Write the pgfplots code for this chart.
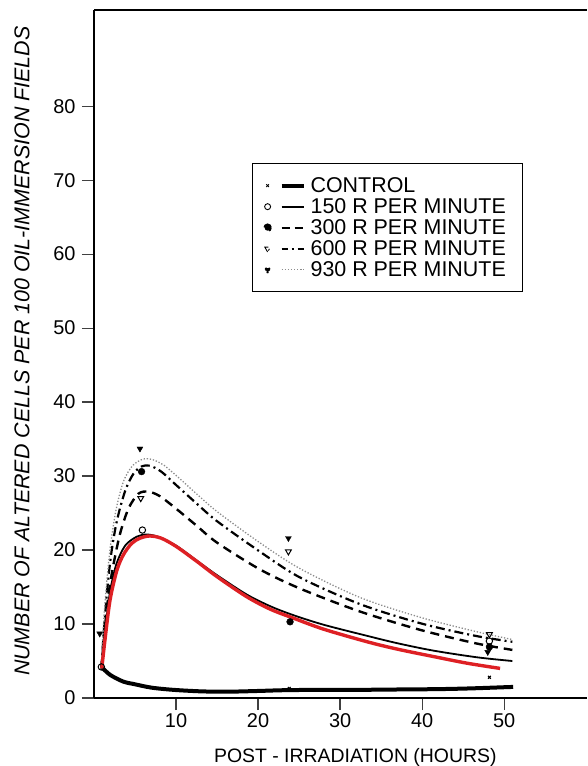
\documentclass[border=0pt]{standalone}
\usepackage{fontspec}
\setmainfont{Liberation Sans}
\usepackage{pgfplots}
\pgfplotsset{compat=1.18}
\definecolor{fitred}{RGB}{222,32,36}
\definecolor{dotgray}{RGB}{140,140,140}

\begin{document}
\begin{tikzpicture}
\begin{axis}[
  scale only axis, width=493bp, height=688bp,
  xmin=0, xmax=60.1, ymin=0, ymax=93,
  axis lines*=left,
  axis line style={line width=1.6bp, black},
  tick align=outside, major tick length=12bp,
  tick style={line width=1.2bp, black!75},
  xtick={10,20,30,40,50}, ytick={0,10,...,80},
  /pgf/number format/assume math mode=true,
  tick label style={font=\fontsize{20}{20}\selectfont},
  yticklabel style={xshift=-3bp},
  xlabel={POST - IRRADIATION (HOURS)},
  ylabel={NUMBER OF ALTERED CELLS PER 100 OIL-IMMERSION FIELDS},
  xlabel style={font=\fontsize{19.5}{20}\selectfont, at={(rel axis cs:0.53,0)}, anchor=center, yshift=-59bp},
  ylabel style={font=\fontsize{21.5}{22}\selectfont\itshape, at={(rel axis cs:0,0.504)}, anchor=center, yshift=72bp},
  legend style={at={(rel axis cs:0.3205,0.7776)}, anchor=north west, draw=black, line width=1.2bp,
    font=\fontsize{21.5}{21.5}\selectfont, inner xsep=12bp, inner ysep=11.5bp,
    nodes={inner xsep=5bp, inner ysep=2.3bp, text depth=0.15em}},
  legend cell align=left,
  clip=false,
]
% control
\addplot[black, line width=4bp, smooth,
  legend image code/.code={\draw[black,mark=x,mark size=1.8bp,line width=1bp] plot coordinates {(0bp,0bp)};
    \draw[black,line width=4bp] (14bp,0bp) -- (36bp,0bp);}]
  coordinates {(1,4.1) (2,3.1) (3.6,2.2) (4.8,1.9) (7,1.4) (9.7,1.1) (13,0.9) (16.2,0.85) (20,0.95) (23,1.05) (27,1.1) (32,1.1) (37,1.15) (42,1.2) (46,1.3) (51.1,1.5)};
\addlegendentry{CONTROL}
% 150 R
\addplot[black, line width=1.8bp, smooth,
  legend image code/.code={\draw[black,fill=white,mark=o,mark size=3bp,line width=0.9bp] plot coordinates {(0bp,0bp)};
    \draw[black,line width=1.8bp] (14bp,0bp) -- (36bp,0bp);}]
  coordinates {(0.9,4.0) (1.3,8.5) (1.9,14.0) (2.7,18.0) (3.8,20.6) (5.2,21.8) (6.4,22.1) (7.8,21.8) (10,20.6) (12.5,18.6) (15,16.6) (18.6,14.0) (21.5,12.4) (24.3,11.2) (28,9.9) (33.3,8.4) (37,7.4) (41.4,6.4) (46.7,5.5) (51,5.0)};
\addlegendentry{150 R PER MINUTE}
% 300 R
\addplot[black, line width=2.4bp, smooth, dash pattern=on 9bp off 6bp,
  legend image code/.code={\draw[black,mark=*,mark size=3bp] plot coordinates {(0bp,0bp)};
    \draw[black,line width=2.4bp,dash pattern=on 8bp off 5bp] (14bp,0bp) -- (36bp,0bp);}]
  coordinates {(0.9,4.0) (1.3,9.2) (1.8,14.2) (2.4,18.2) (3.2,22.3) (4.2,25.6) (5.4,27.6) (6.6,27.9) (8,27.3) (10,25.6) (12.5,23.3) (15,21.0) (20.2,17.4) (25.1,14.8) (32.4,11.7) (39.8,9.2) (46.5,7.4) (51,6.5)};
\addlegendentry{300 R PER MINUTE}
% 600 R
\addplot[black, line width=2.2bp, smooth, dash pattern=on 9bp off 4bp on 2bp off 4bp,
  legend image code/.code={\draw[black,fill=white,mark=triangle,mark size=3.2bp,mark options={rotate=180},line width=0.9bp] plot coordinates {(0bp,0bp)};
    \draw[black,line width=2.2bp,dash pattern=on 6bp off 4bp on 2bp off 4bp] (14bp,0bp) -- (36bp,0bp);}]
  coordinates {(0.9,4.0) (1.2,9.0) (1.6,14.5) (2.1,19.5) (2.8,24.0) (3.8,28.0) (4.8,30.3) (5.8,31.3) (6.8,31.4) (8.2,30.6) (10,28.8) (12.5,26.3) (15,23.9) (20.2,19.8) (25.1,16.3) (32.4,12.7) (39.8,10.1) (46.5,8.4) (51,7.6)};
\addlegendentry{600 R PER MINUTE}
% 930 R
\addplot[dotgray, line width=1.3bp, smooth, dash pattern=on 1.3bp off 1.8bp,
  legend image code/.code={\draw[black,fill=black,mark=triangle*,mark size=3.2bp,mark options={rotate=180}] plot coordinates {(0bp,0bp)};
    \draw[dotgray,line width=1.3bp,dash pattern=on 1.3bp off 1.8bp] (14bp,0bp) -- (36bp,0bp);}]
  coordinates {(0.9,4.0) (1.1,9.0) (1.5,15.0) (2.0,20.5) (2.7,25.5) (3.6,29.3) (4.7,31.4) (6.0,32.3) (7.2,32.2) (8.6,31.4) (10.5,29.6) (12.5,27.6) (15,25.2) (20.2,21.0) (25.1,17.5) (32.4,13.6) (39.8,10.9) (46.5,9.0) (51,7.9)};
\addlegendentry{930 R PER MINUTE}
% red fitted curve
\addplot[fitred, line width=3.4bp, smooth, forget plot]
  coordinates {(0.95,4.0) (1.3,7.5) (1.95,13.2) (2.8,17.3) (3.6,19.4) (4.6,20.9) (5.6,21.6) (6.8,21.9) (8.2,21.6) (10,20.5) (12.5,18.5) (15,16.4) (18.6,13.7) (21.5,12.0) (24.3,10.8) (28,9.3) (33.3,7.6) (37,6.6) (41.4,5.6) (45.5,4.7) (49.5,4.0)};
% observed points
\addplot[only marks, black, mark=x, mark size=2bp, line width=1.2bp, forget plot]
  coordinates {(23.8,1.3) (48.2,2.8)};
\addplot[only marks, black, mark=o, mark size=3.2bp, line width=1bp, fill=white, forget plot]
  coordinates {(0.9,4.2) (5.9,22.7) (48.2,7.7)};
\addplot[only marks, black, mark=*, mark size=3.4bp, forget plot]
  coordinates {(5.8,30.6) (23.9,10.3) (48.2,6.9)};
\addplot[only marks, black, mark=triangle, mark size=3.4bp, mark options={rotate=180, fill=white}, line width=1bp, forget plot]
  coordinates {(5.7,27.0) (23.7,19.8) (48.2,8.6)};
\addplot[only marks, black, mark=triangle*, mark size=3.4bp, mark options={rotate=180}, forget plot]
  coordinates {(0.7,8.7) (5.6,33.7) (23.7,21.6) (48.0,6.2)};
\coordinate (O) at (rel axis cs:0,0);
\coordinate (TR) at (rel axis cs:1,1);
\end{axis}
\draw[line width=1.6bp] (O|-TR) -- (TR);
\pgfresetboundingbox
\path ([shift={(-94bp,-68bp)}]O) rectangle ([shift={(0bp,10bp)}]TR);
\end{tikzpicture}
\end{document}
